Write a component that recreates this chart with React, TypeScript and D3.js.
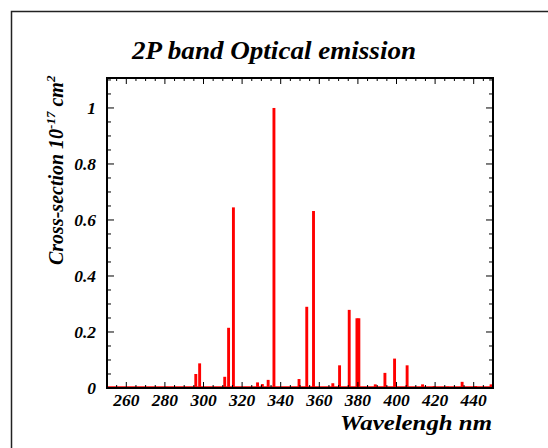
import React from "react";
import * as d3 from "d3";

const wavelengths = [281, 296, 298, 311, 313, 315.5, 328, 330.5, 333.5, 336.5, 349.5, 353.5, 357, 367, 370.5, 375.5, 379.5, 380.5, 389, 394, 399, 405.5, 413.5, 419.5, 426.5, 434, 441, 449];
const values = [0.004, 0.05, 0.088, 0.04, 0.215, 0.645, 0.02, 0.014, 0.029, 1.0, 0.032, 0.29, 0.632, 0.017, 0.081, 0.279, 0.249, 0.249, 0.013, 0.054, 0.105, 0.081, 0.013, 0.007, 0.005, 0.022, 0.007, 0.013];
const xTicks = [260, 280, 300, 320, 340, 360, 380, 400, 420, 440];
const yTicks = [0, 0.2, 0.4, 0.6, 0.8, 1];
const yTickLabels = ["0", "0.2", "0.4", "0.6", "0.8", "1"];

const W = 548, H = 448;
const L = 107, R = 493, T = 78, B = 388;

export default function App() {
  const x = d3.scaleLinear().domain([250, 450]).range([L, R]);
  const y = d3.scaleLinear().domain([0, 1.107]).range([B, T]);
  const xMinor = d3.range(250, 450.1, 5);
  const yMinor = d3.range(0, 1.101, 0.05);
  const font = "'Liberation Serif', 'DejaVu Serif', serif";
  const halfW = 0.75;
  return (
    <svg width={W} height={H} style={{ position: "absolute", left: 0, top: 0 }}>
      <rect x={0} y={0} width={W} height={H} fill="white" />
      <path d={`M11.5,${H} L11.5,11.5 L${W},11.5`} fill="none" stroke="#222" strokeWidth={1.5} />
      <text x={274} y={59} textAnchor="middle" fontFamily={font} fontWeight="bold" fontStyle="italic" fontSize={25} textLength={284} lengthAdjust="spacingAndGlyphs">2P band Optical emission</text>
      <line x1={L} x2={R} y1={y(0) - 1} y2={y(0) - 1} stroke="red" strokeWidth={1.5} />
      {wavelengths.map((w, i) => (
        <rect key={i} x={x(w - halfW)} y={y(values[i])} width={x(w + halfW) - x(w - halfW)} height={y(0) - y(values[i])} fill="red" />
      ))}
      {xMinor.map((v, i) => {
        const major = xTicks.includes(v);
        const len = major ? 6 : 3;
        return (
          <g key={"xt" + i}>
            <line x1={x(v)} x2={x(v)} y1={B} y2={B - len} stroke="black" strokeWidth={1} />
            <line x1={x(v)} x2={x(v)} y1={T} y2={T + len} stroke="black" strokeWidth={1} />
          </g>
        );
      })}
      {yMinor.map((v, i) => {
        const major = Math.abs(v / 0.2 - Math.round(v / 0.2)) < 1e-6;
        const len = major ? 7 : 4;
        return (
          <g key={"yt" + i}>
            <line x1={L} x2={L + len} y1={y(v)} y2={y(v)} stroke="black" strokeWidth={1} />
            <line x1={R} x2={R - len} y1={y(v)} y2={y(v)} stroke="black" strokeWidth={1} />
          </g>
        );
      })}
      <rect x={L} y={T} width={R - L} height={B - T} fill="none" stroke="black" strokeWidth={2} />
      {xTicks.map((v) => (
        <text key={"xl" + v} x={x(v)} y={406} textAnchor="middle" fontFamily={font} fontWeight="bold" fontStyle="italic" fontSize={17.5}>{v}</text>
      ))}
      {yTicks.map((v, i) => (
        <text key={"yl" + v} x={96} y={y(v) + 6} textAnchor="end" fontFamily={font} fontWeight="bold" fontStyle="italic" fontSize={17.5}>{yTickLabels[i]}</text>
      ))}
      <text x={492} y={430} textAnchor="end" fontFamily={font} fontWeight="bold" fontStyle="italic" fontSize={21} textLength={152} lengthAdjust="spacingAndGlyphs">Wavelengh nm</text>
      <text transform={`translate(63,265) rotate(-90)`} textAnchor="start" fontFamily={font} fontWeight="bold" fontStyle="italic" fontSize={20}>
        Cross-section 10<tspan dy={-8} fontSize={13}>-17</tspan><tspan dy={8}> cm</tspan><tspan dy={-8} fontSize={13}>2</tspan>
      </text>
    </svg>
  );
}
